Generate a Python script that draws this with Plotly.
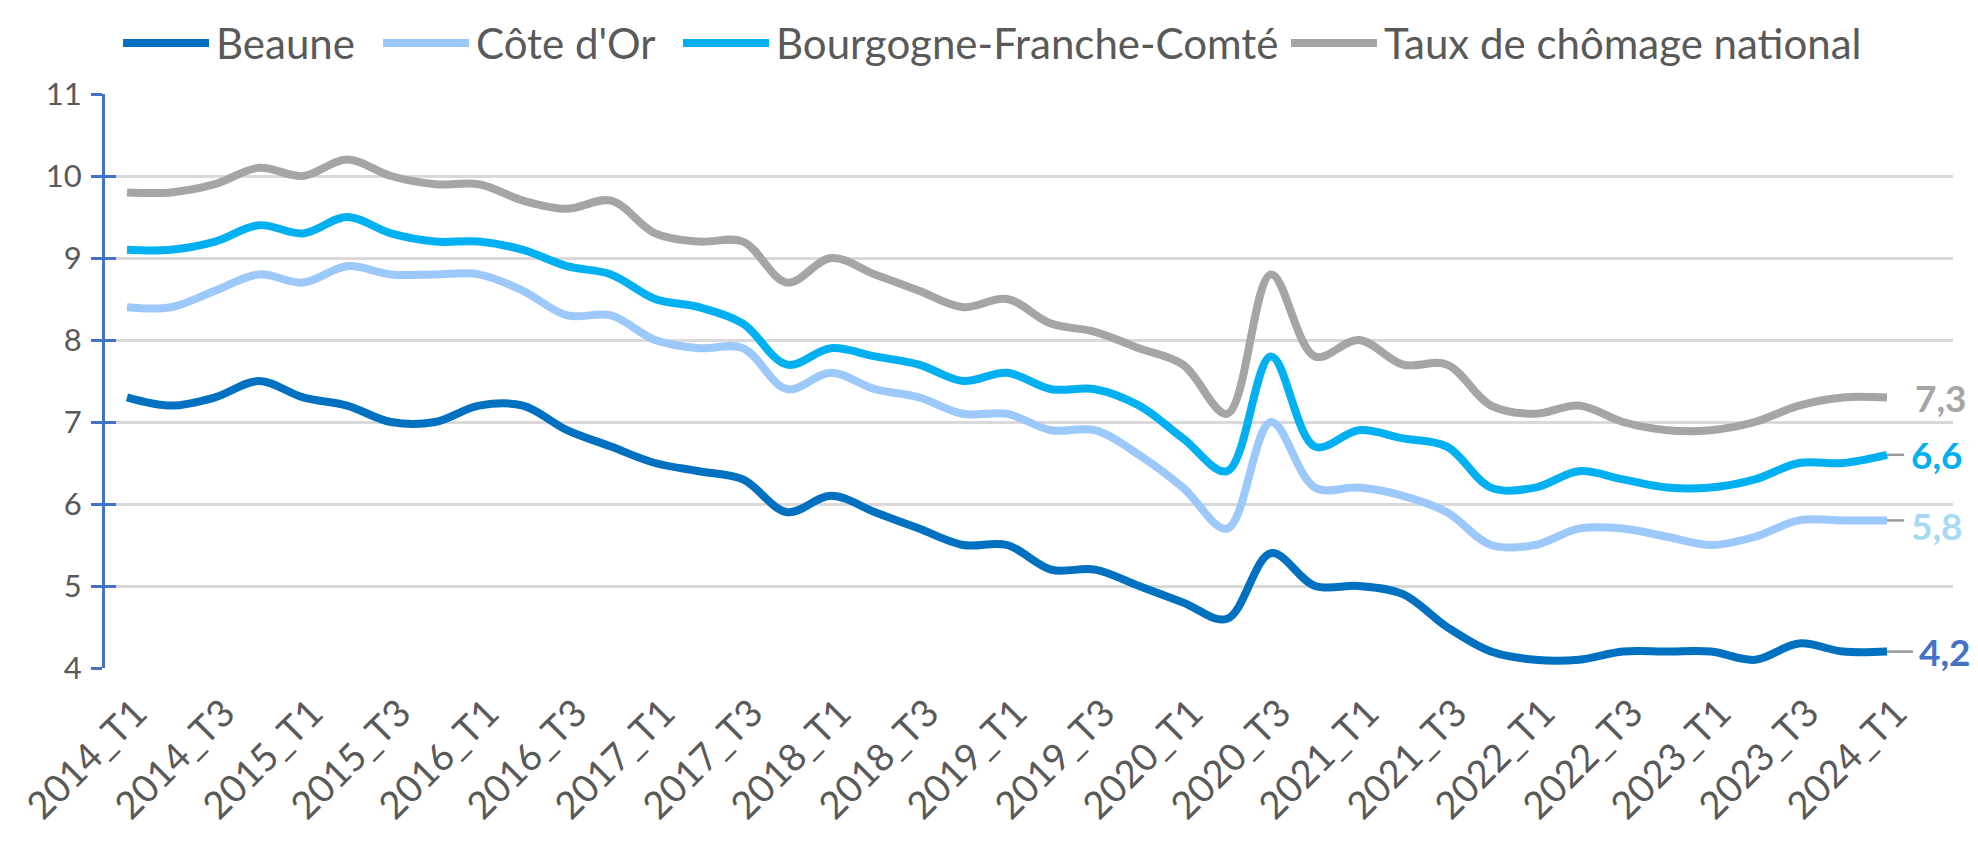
import plotly.graph_objects as go

quarters = [
    "2014_T1", "2014_T2", "2014_T3", "2014_T4",
    "2015_T1", "2015_T2", "2015_T3", "2015_T4",
    "2016_T1", "2016_T2", "2016_T3", "2016_T4",
    "2017_T1", "2017_T2", "2017_T3", "2017_T4",
    "2018_T1", "2018_T2", "2018_T3", "2018_T4",
    "2019_T1", "2019_T2", "2019_T3", "2019_T4",
    "2020_T1", "2020_T2", "2020_T3", "2020_T4",
    "2021_T1", "2021_T2", "2021_T3", "2021_T4",
    "2022_T1", "2022_T2", "2022_T3", "2022_T4",
    "2023_T1", "2023_T2", "2023_T3", "2023_T4",
    "2024_T1",
]

beaune = [7.3, 7.2, 7.3, 7.5, 7.3, 7.2, 7.0, 7.0, 7.2, 7.2,
          6.9, 6.7, 6.5, 6.4, 6.3, 5.9, 6.1, 5.9, 5.7, 5.5,
          5.5, 5.2, 5.2, 5.0, 4.8, 4.6, 5.4, 5.0, 5.0, 4.9,
          4.5, 4.2, 4.1, 4.1, 4.2, 4.2, 4.2, 4.1, 4.3, 4.2, 4.2]
cote_dor = [8.4, 8.4, 8.6, 8.8, 8.7, 8.9, 8.8, 8.8, 8.8, 8.6,
            8.3, 8.3, 8.0, 7.9, 7.9, 7.4, 7.6, 7.4, 7.3, 7.1,
            7.1, 6.9, 6.9, 6.6, 6.2, 5.7, 7.0, 6.2, 6.2, 6.1,
            5.9, 5.5, 5.5, 5.7, 5.7, 5.6, 5.5, 5.6, 5.8, 5.8, 5.8]
bfc = [9.1, 9.1, 9.2, 9.4, 9.3, 9.5, 9.3, 9.2, 9.2, 9.1,
       8.9, 8.8, 8.5, 8.4, 8.2, 7.7, 7.9, 7.8, 7.7, 7.5,
       7.6, 7.4, 7.4, 7.2, 6.8, 6.4, 7.8, 6.7, 6.9, 6.8,
       6.7, 6.2, 6.2, 6.4, 6.3, 6.2, 6.2, 6.3, 6.5, 6.5, 6.6]
national = [9.8, 9.8, 9.9, 10.1, 10.0, 10.2, 10.0, 9.9, 9.9, 9.7,
            9.6, 9.7, 9.3, 9.2, 9.2, 8.7, 9.0, 8.8, 8.6, 8.4,
            8.5, 8.2, 8.1, 7.9, 7.7, 7.1, 8.8, 7.8, 8.0, 7.7,
            7.7, 7.2, 7.1, 7.2, 7.0, 6.9, 6.9, 7.0, 7.2, 7.3, 7.3]

series_names = ["Beaune", "Côte d'Or", "Bourgogne-Franche-Comté", "Taux de chômage national"]
series_values = [beaune, cote_dor, bfc, national]
series_colors = ["#0070C0", "#9CC8FA", "#00B0F0", "#A5A5A5"]
label_colors = ["#4472C4", "#A6D9F2", "#00B0F0", "#A5A5A5"]

FONT = "Lato, Carlito, Calibri, sans-serif"
TXT = "#595959"

W, H = 1978, 843
L, R, T, B = 97, 33, 86, 183
PW, PH = W - L - R, H - T - B


def px(xp):
    return (xp - L) / PW


def py(yp):
    return (H - B - yp) / PH


xi = list(range(len(quarters)))            # category index of each quarter
tick_idx = xi[::2]                          # T1 / T3 labels
tick_text = [quarters[i] for i in tick_idx]
LABEL_OFFSET = 0.2                          # rotated labels end slightly right of the category

fig = go.Figure()
for name, vals, col in zip(series_names, series_values, series_colors):
    fig.add_trace(go.Scatter(
        x=xi, y=vals, name=name, mode="lines", customdata=quarters,
        line=dict(color=col, width=8, shape="spline", smoothing=1.0),
        showlegend=False, hovertemplate="%{customdata}: %{y}<extra>" + name + "</extra>",
    ))

# invisible trace for overlay axis (inside tick marks)
fig.add_trace(go.Scatter(x=[0], y=[None], yaxis="y2", showlegend=False, hoverinfo="skip"))

shapes = []
annotations = []

# end-of-line data labels with leader lines
last = xi[-1]
leader_len = {0: 26, 1: 17, 2: 17, 3: 0}
label_shift = {0: 30, 1: 22, 2: 22, 3: 26}
label_yshift = {0: 0, 1: -5, 2: 0, 3: 0}
for i, (vals, lc) in enumerate(zip(series_values, label_colors)):
    v = vals[-1]
    if leader_len[i] > 0:
        shapes.append(dict(type="line", xref="x", yref="y", xsizemode="pixel",
                           xanchor=last, x0=0, x1=leader_len[i],
                           y0=v, y1=v, line=dict(color="#9A9A9A", width=2.5),
                           layer="above"))
    annotations.append(dict(x=last, y=v, xref="x", yref="y",
                            text=f"{v:.1f}".replace(".", ","), showarrow=False,
                            xanchor="left", yanchor="middle",
                            xshift=label_shift[i], yshift=label_yshift[i],
                            font=dict(family=FONT, size=37, color=lc, weight="bold")))

# custom legend (long line samples as in the reference)
legend_line_x = [115, 375, 675, 1283]
legend_y = 35
for name, col, x0 in zip(series_names, series_colors, legend_line_x):
    shapes.append(dict(type="line", xref="paper", yref="paper",
                       x0=px(x0), x1=px(x0 + 86), y0=py(legend_y), y1=py(legend_y),
                       line=dict(color=col, width=8)))
    annotations.append(dict(x=px(x0 + 91), y=py(legend_y), xref="paper", yref="paper",
                            text=name, showarrow=False, xanchor="left", yanchor="middle",
                            font=dict(family=FONT, size=42, color=TXT)))

fig.update_layout(
    width=W, height=H,
    margin=dict(l=L, r=R, t=T, b=B, pad=0, autoexpand=False),
    paper_bgcolor="white", plot_bgcolor="white",
    showlegend=False,
    shapes=shapes, annotations=annotations,
    xaxis=dict(type="linear", range=[-0.5, 41.5], showgrid=False, zeroline=False,
               showline=False, ticks="", tickmode="array", automargin=False,
               tickvals=[i + LABEL_OFFSET for i in tick_idx], ticktext=tick_text,
               tickangle=-45, tickfont=dict(family=FONT, size=38, color=TXT),
               ticklabelstandoff=14),
    yaxis=dict(range=[4, 11], dtick=1, tick0=4, showgrid=True, gridcolor="#D9D9D9",
               gridwidth=2.5, zeroline=False, showline=True, linecolor="#4472C4",
               linewidth=3, ticks="outside", ticklen=11, tickwidth=3, automargin=False,
               tickcolor="#4472C4", tickfont=dict(family=FONT, size=31, color=TXT),
               ticklabelstandoff=3),
    yaxis2=dict(range=[4, 11], overlaying="y", side="left", anchor="x",
                tickmode="array", tickvals=[5, 6, 7, 8, 9, 10, 11], automargin=False,
                ticks="inside", ticklen=11, tickwidth=3, tickcolor="#4472C4",
                showticklabels=False, showgrid=False, zeroline=False, showline=False),
)

fig.write_html("out.html")
